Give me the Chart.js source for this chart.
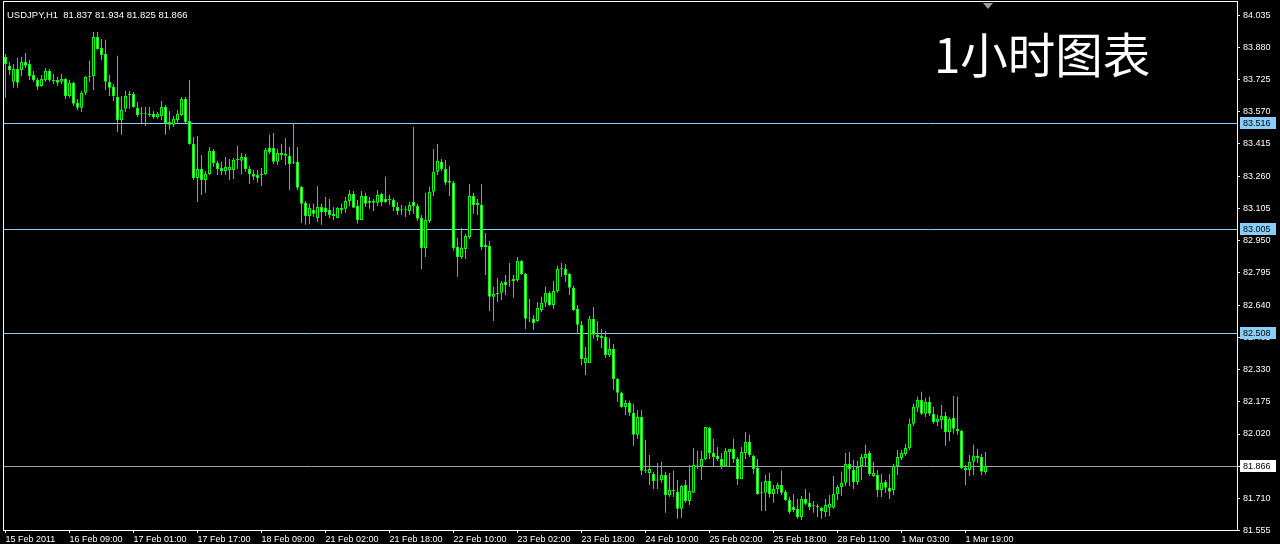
<!DOCTYPE html>
<html><head><meta charset="utf-8">
<script src="https://cdn.jsdelivr.net/npm/chart.js@4.4.1/dist/chart.umd.min.js"></script>
<style>
html,body{margin:0;padding:0;background:#000;width:1280px;height:544px;overflow:hidden}
#wrap{position:relative;width:1280px;height:544px}
canvas{position:absolute;left:0;top:0}
#sym{position:absolute;left:7px;top:10px;font:9.5px/10px "Liberation Sans",Arial,sans-serif;color:#fff;white-space:pre}
#title{position:absolute;left:934px;top:29px;font:47.5px/47px "Noto Sans CJK SC",sans-serif;color:#fff;white-space:nowrap}
</style></head><body>
<div id="wrap"><canvas id="c" width="1280" height="544"></canvas>
<div id="sym">USDJPY,H1  81.837 81.934 81.825 81.866</div>
<div id="title">1小时图表</div></div>
<script>
const opens=[83.834,83.791,83.714,83.776,83.771,83.810,83.800,83.747,83.723,83.694,
83.723,83.766,83.723,83.723,83.714,83.728,83.646,83.709,83.613,83.589,
83.661,83.738,83.742,83.930,83.877,83.848,83.714,83.690,83.641,83.531,
83.584,83.656,83.656,83.589,83.560,83.558,83.560,83.560,83.545,83.550,
83.593,83.521,83.507,83.531,83.555,83.632,83.526,83.415,83.252,83.295,
83.242,83.271,83.382,83.324,83.300,83.285,83.290,83.290,83.338,83.334,
83.353,83.295,83.271,83.266,83.271,83.271,83.396,83.396,83.329,83.372,
83.367,83.358,83.324,83.329,83.209,83.132,83.069,83.098,83.059,83.112,
83.108,83.098,83.079,83.059,83.108,83.103,83.141,83.175,83.117,83.050,
83.165,83.141,83.141,83.132,83.175,83.151,83.151,83.146,83.112,83.098,
83.096,83.093,83.136,83.117,83.059,82.915,83.045,83.185,83.281,83.329,
83.295,83.237,83.228,82.920,82.872,82.910,82.968,83.165,83.132,83.122,
82.930,82.925,82.680,82.699,82.699,82.752,82.754,82.756,82.761,82.853,
82.790,82.576,82.574,82.564,82.617,82.651,82.699,82.641,82.708,82.814,
82.814,82.790,82.723,82.622,82.545,82.362,82.362,82.574,82.497,82.492,
82.487,82.400,82.429,82.285,82.218,82.150,82.170,82.122,82.016,82.102,
81.845,81.833,81.828,81.799,81.799,81.823,81.727,81.746,81.742,81.660,
81.775,81.698,81.737,81.871,81.866,81.900,82.049,81.929,81.915,81.900,
81.866,81.934,81.948,81.900,81.804,81.929,81.982,81.915,81.857,81.735,
81.737,81.794,81.732,81.756,81.775,81.742,81.703,81.669,81.660,81.621,
81.708,81.689,81.674,81.669,81.665,81.645,81.665,81.665,81.732,81.765,
81.785,81.876,81.847,81.789,81.866,81.905,81.929,81.818,81.823,81.751,
81.789,81.761,81.751,81.866,81.905,81.924,81.953,82.069,82.146,82.184,
82.117,82.175,82.117,82.078,82.088,82.107,82.030,82.097,82.045,82.035,
81.847,81.847,81.886,81.915,81.910,81.837];
const highs=[83.848,83.810,83.800,83.829,83.834,83.853,83.819,83.766,83.733,83.747,
83.781,83.776,83.752,83.738,83.752,83.733,83.723,83.714,83.632,83.670,
83.742,83.815,83.954,83.954,83.920,83.916,83.747,83.704,83.839,83.646,
83.670,83.670,83.665,83.617,83.593,83.593,83.593,83.574,83.569,83.622,
83.603,83.574,83.550,83.579,83.641,83.641,83.723,83.449,83.454,83.362,
83.285,83.401,83.391,83.334,83.329,83.353,83.343,83.348,83.406,83.372,
83.367,83.310,83.290,83.290,83.300,83.396,83.459,83.468,83.391,83.415,
83.444,83.401,83.516,83.401,83.213,83.141,83.127,83.127,83.213,83.127,
83.160,83.151,83.112,83.112,83.127,83.160,83.194,83.189,83.146,83.189,
83.180,83.160,83.151,83.194,83.180,83.257,83.170,83.156,83.136,83.122,
83.117,83.136,83.497,83.127,83.074,83.180,83.209,83.391,83.415,83.343,
83.338,83.310,83.237,82.963,83.011,82.982,83.223,83.180,83.151,83.223,
82.987,82.949,82.728,82.771,82.756,82.785,82.843,82.785,82.872,82.857,
82.795,82.670,82.593,82.655,82.680,82.728,82.708,82.756,82.829,82.843,
82.838,82.795,82.733,82.641,82.564,82.439,82.588,82.631,82.564,82.525,
82.516,82.482,82.453,82.290,82.223,82.184,82.180,82.165,82.136,82.136,
81.992,81.919,81.838,81.881,81.886,81.838,81.833,81.843,81.799,81.775,
81.799,81.871,81.953,81.939,81.939,82.054,82.054,81.997,81.958,81.929,
81.953,81.948,81.997,81.910,81.958,82.030,82.016,81.919,81.900,81.789,
81.823,81.833,81.775,81.785,81.843,81.751,81.718,81.732,81.708,81.722,
81.756,81.737,81.698,81.684,81.669,81.708,81.727,81.818,81.775,81.838,
81.929,81.934,81.895,81.891,81.924,81.968,81.939,81.886,81.847,81.828,
81.799,81.828,81.876,81.943,81.943,81.972,82.093,82.165,82.199,82.223,
82.194,82.199,82.150,82.112,82.160,82.126,82.102,82.203,82.199,82.040,
81.871,81.919,81.968,81.948,81.924,81.934];
const lows=[83.637,83.747,83.685,83.685,83.742,83.781,83.723,83.714,83.675,83.690,
83.714,83.714,83.704,83.694,83.704,83.632,83.637,83.598,83.579,83.569,
83.651,83.714,83.675,83.868,83.819,83.675,83.646,83.622,83.473,83.459,
83.569,83.584,83.589,83.545,83.516,83.502,83.545,83.536,83.536,83.531,
83.459,83.483,83.497,83.512,83.550,83.516,83.411,83.242,83.136,83.170,
83.180,83.266,83.305,83.266,83.266,83.266,83.242,83.247,83.295,83.271,
83.281,83.223,83.242,83.228,83.213,83.266,83.367,83.319,83.314,83.338,
83.314,83.194,83.319,83.194,83.035,83.026,83.031,83.064,83.040,83.026,
83.069,83.059,83.050,83.059,83.079,83.084,83.117,83.108,83.031,83.050,
83.112,83.103,83.093,83.117,83.117,83.132,83.122,83.093,83.074,83.074,
83.064,83.074,83.079,83.045,82.814,82.872,83.035,83.165,83.266,83.285,
83.218,83.165,82.901,82.776,82.862,82.862,82.958,83.079,83.074,82.906,
82.785,82.612,82.564,82.655,82.665,82.689,82.728,82.675,82.752,82.785,
82.525,82.559,82.521,82.559,82.607,82.631,82.636,82.622,82.699,82.776,
82.752,82.689,82.612,82.502,82.352,82.304,82.362,82.478,82.468,82.434,
82.386,82.391,82.232,82.175,82.146,82.112,82.107,81.963,81.997,81.823,
81.833,81.775,81.756,81.756,81.785,81.641,81.717,81.717,81.612,81.617,
81.689,81.679,81.737,81.852,81.799,81.895,81.900,81.862,81.890,81.852,
81.862,81.862,81.881,81.775,81.804,81.900,81.910,81.828,81.727,81.650,
81.650,81.713,81.689,81.732,81.727,81.698,81.636,81.645,81.612,81.607,
81.679,81.655,81.641,81.621,81.612,81.621,81.626,81.660,81.703,81.722,
81.770,81.770,81.756,81.775,81.799,81.866,81.818,81.813,81.717,81.717,
81.737,81.708,81.727,81.823,81.895,81.915,81.943,82.059,82.126,82.112,
82.102,82.107,82.069,82.059,82.045,81.963,81.987,82.021,82.016,81.852,
81.775,81.818,81.823,81.881,81.823,81.825];
const closes=[83.800,83.771,83.776,83.709,83.810,83.791,83.742,83.723,83.690,83.728,
83.766,83.723,83.718,83.709,83.728,83.646,83.709,83.608,83.589,83.661,
83.738,83.740,83.930,83.872,83.843,83.714,83.685,83.646,83.531,83.579,
83.646,83.651,83.593,83.555,83.558,83.560,83.555,83.545,83.560,83.593,
83.516,83.507,83.536,83.560,83.632,83.521,83.415,83.252,83.295,83.242,
83.271,83.382,83.324,83.295,83.285,83.305,83.305,83.338,83.340,83.353,
83.295,83.271,83.257,83.252,83.266,83.386,83.377,83.329,83.372,83.362,
83.358,83.319,83.322,83.204,83.127,83.069,83.108,83.079,83.112,83.088,
83.088,83.074,83.069,83.108,83.098,83.141,83.175,83.108,83.050,83.165,
83.127,83.132,83.132,83.170,83.136,83.136,83.146,83.112,83.093,83.096,
83.098,83.122,83.117,83.055,82.915,83.050,83.185,83.281,83.334,83.295,
83.228,83.228,82.915,82.872,82.915,82.973,83.165,83.122,83.122,82.920,
82.920,82.680,82.694,82.694,82.747,82.737,82.756,82.766,82.853,82.790,
82.574,82.578,82.554,82.627,82.651,82.699,82.641,82.708,82.814,82.812,
82.785,82.723,82.617,82.545,82.381,82.386,82.574,82.497,82.487,82.482,
82.400,82.429,82.285,82.218,82.150,82.170,82.122,82.016,82.102,81.843,
81.843,81.852,81.794,81.797,81.823,81.727,81.751,81.748,81.660,81.770,
81.698,81.746,81.871,81.868,81.900,82.054,81.929,81.910,81.900,81.866,
81.939,81.948,81.900,81.804,81.934,81.982,81.919,81.852,81.732,81.737,
81.794,81.732,81.756,81.775,81.737,81.703,81.645,81.655,81.621,81.708,
81.684,81.669,81.672,81.671,81.650,81.679,81.684,81.732,81.765,81.785,
81.876,81.852,81.789,81.861,81.910,81.924,81.828,81.833,81.751,81.785,
81.761,81.742,81.866,81.910,81.929,81.953,82.069,82.150,82.184,82.117,
82.175,82.117,82.078,82.093,82.107,82.030,82.093,82.045,82.035,81.857,
81.857,81.886,81.915,81.905,81.838,81.866];

const timeLabels=["15 Feb 2011","16 Feb 09:00","17 Feb 01:00","17 Feb 17:00","18 Feb 09:00","21 Feb 02:00","21 Feb 18:00","22 Feb 10:00","23 Feb 02:00","23 Feb 18:00","24 Feb 10:00","25 Feb 02:00","25 Feb 18:00","28 Feb 11:00","1 Mar 03:00","1 Mar 19:00"];
const timeLabelBars=[0,16,32,48,64,80,96,112,128,144,160,176,192,208,224,240];
const yTicks=[81.555,81.710,81.865,82.020,82.175,82.330,82.485,82.640,82.795,82.950,83.105,83.260,83.415,83.570,83.725,83.880,84.035];
const levelLines=[83.516,83.005,82.508];
const bidPrice=81.866;
const shiftMarkerBar=245.6;

const FONT='"Liberation Sans", Arial, sans-serif';
Chart.defaults.font.family=FONT;
Chart.defaults.font.size=9;
Chart.defaults.color='#ffffff';

const noPad=s=>{s.paddingTop=0;s.paddingBottom=0;s.paddingLeft=0;s.paddingRight=0;};

const levelsPlugin={
  id:'levels',
  beforeDatasetsDraw(chart){
    const {ctx,chartArea:a,scales:{y}}=chart;
    ctx.save();
    ctx.lineWidth=1;
    ctx.strokeStyle='#87cefa';
    levelLines.forEach(v=>{
      const py=Math.round(y.getPixelForValue(v))+0.5;
      ctx.beginPath();ctx.moveTo(a.left,py);ctx.lineTo(a.right,py);ctx.stroke();
    });
    ctx.strokeStyle='#a0a0a0';
    const pb=Math.round(y.getPixelForValue(bidPrice))+0.5;
    ctx.beginPath();ctx.moveTo(a.left,pb);ctx.lineTo(a.right,pb);ctx.stroke();
    ctx.restore();
  },
  afterDraw(chart){
    const {ctx,chartArea:a,scales:{x,y}}=chart;
    ctx.save();
    ctx.strokeStyle='#ffffff';ctx.lineWidth=1;
    ctx.strokeRect(a.left+0.5,a.top+0.5,a.right-a.left,a.bottom-a.top-1);
    ctx.font='9px '+FONT;ctx.textBaseline='middle';ctx.textAlign='left';
    const box=(v,bg,fg)=>{
      const py=Math.round(y.getPixelForValue(v));
      ctx.fillStyle=bg;ctx.fillRect(a.right+3,py-6,36,12);
      ctx.fillStyle=fg;ctx.fillText(v.toFixed(3),a.right+6,py+0.5);
    };
    levelLines.forEach(v=>box(v,'#87cefa','#000000'));
    box(bidPrice,'#ffffff','#000000');
    const sx=Math.round(x.getPixelForValue(shiftMarkerBar));
    ctx.fillStyle='#9a9a9a';
    ctx.beginPath();ctx.moveTo(sx-5,a.top+2);ctx.lineTo(sx+5,a.top+2);ctx.lineTo(sx,a.top+8);ctx.closePath();ctx.fill();
    ctx.restore();
  }
};

new Chart(document.getElementById('c'),{
  type:'bar',
  data:{datasets:[
    {label:'wick',data:lows.map((l,i)=>({x:i,y:[l,highs[i]]})),backgroundColor:'#00ff00',borderWidth:0,barThickness:1,grouped:false,order:2,inflateAmount:0},
    {label:'body',data:opens.map((o,i)=>({x:i,y:[o,closes[i]]})),
     backgroundColor:c=>closes[c.dataIndex]<opens[c.dataIndex]?'#ffffff':'#000000',
     borderColor:'#00ff00',borderWidth:1,borderSkipped:false,barThickness:3,minBarLength:1,grouped:false,order:1,inflateAmount:0}
  ]},
  options:{
    responsive:false,animation:false,devicePixelRatio:1,
    layout:{padding:{left:3,top:1,right:0,bottom:0},autoPadding:false},
    plugins:{legend:{display:false},tooltip:{enabled:false}},
    scales:{
      x:{type:'linear',min:-0.625,max:307.875,offset:false,
        afterFit:s=>{s.height=13;noPad(s);},
        afterBuildTicks:s=>{s.ticks=timeLabelBars.map(v=>({value:v}));},
        grid:{display:true,offset:false,drawOnChartArea:false,drawTicks:true,tickLength:2,color:'#ffffff'},
        border:{display:false},
        ticks:{autoSkip:false,maxRotation:0,align:'start',padding:1,color:'#ffffff',font:{size:9},callback:(v,i)=>timeLabels[i]}},
      y:{type:'linear',position:'right',min:81.5535,max:84.1028,
        afterFit:s=>{s.width=43;noPad(s);},
        afterBuildTicks:s=>{s.ticks=yTicks.map(v=>({value:v}));},
        grid:{display:true,drawOnChartArea:false,drawTicks:true,tickLength:3,color:'#ffffff'},
        border:{display:false},
        ticks:{autoSkip:false,padding:3,color:'#ffffff',font:{size:9},callback:v=>v.toFixed(3)}}
    }
  },
  plugins:[levelsPlugin]
});
</script>
</body></html>
